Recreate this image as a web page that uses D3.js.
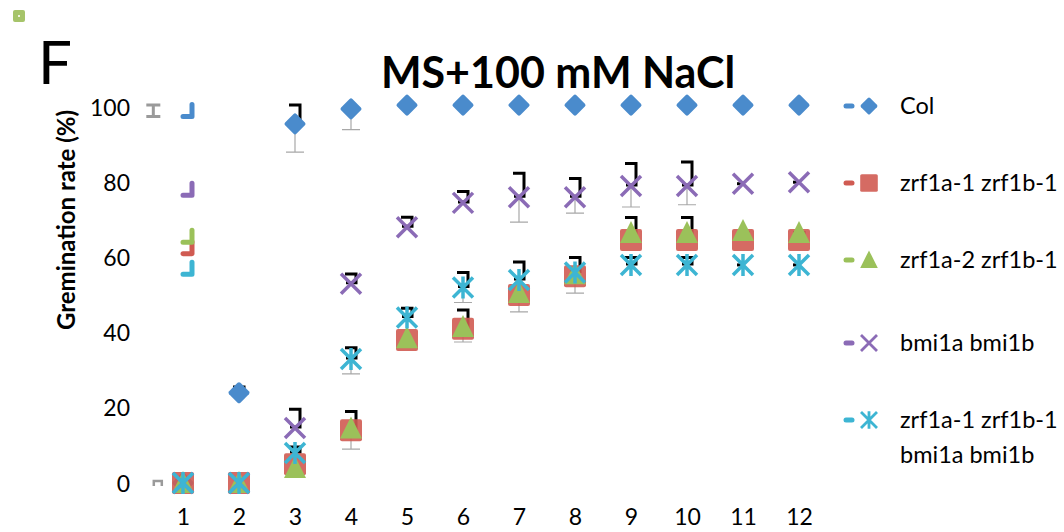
<!DOCTYPE html>
<html>
<head>
<meta charset="utf-8">
<script src="https://cdn.jsdelivr.net/npm/d3@7"></script>
<style>
  body { margin: 0; background: #fff; }
  text { font-family: Lato, "Open Sans", sans-serif; fill: #000; }
</style>
</head>
<body>
<div id="chart"></div>
<script>
// days on the x axis
var days = [1, 2, 3, 4, 5, 6, 7, 8, 9, 10, 11, 12];
var yTicks = [0, 20, 40, 60, 80, 100];

// germination rate (%) per genotype
var colValues   = [0, 24, 95.5, 99.5, 100.5, 100.5, 100.5, 100.5, 100.5, 100.5, 100.5, 100.5];
var zrf1Values  = [0, 0, 5, 14, 38, 41, 50, 55, 64.6, 64.6, 64.6, 64.6];
var zrf2Values  = [0, 0, 4, 14.5, 38.5, 41.5, 50.5, 55.5, 66.5, 66.5, 67, 66.5];
var bmiValues   = [0, 0, 14.6, 53, 68, 74.5, 76, 76, 79, 79, 79.6, 80];
var quadValues  = [0, 0, 8, 33, 44, 52, 54, 56, 58, 58, 58, 58];

// error bars: upper (black) and lower (grey) half-widths, 0 = not drawn
var colErrUp    = [0, 1.5, 5, 0, 0, 0, 0, 0, 0, 0, 0, 0];
var colErrDown  = [0, 0, 7.5, 5.5, 0, 0, 0, 0, 0, 0, 0, 0];
var zrf1ErrUp   = [0, 0, 0, 5, 0, 5, 0, 0, 6, 6, 2, 2];
var zrf1ErrDown = [0, 0, 0, 5, 0, 3.5, 4.5, 4.5, 0, 0, 0, 0];
var bmiErrUp    = [0, 0, 5, 2.6, 2.7, 3, 6.4, 5, 6, 6.4, 0.5, 0.5];
var bmiErrDown  = [0, 0, 0, 0, 0, 0, 6.6, 4.2, 5.6, 5, 0, 0];
var quadErrUp   = [0, 0, 1.6, 3, 2.5, 4, 4.8, 4, 2, 2, 0.5, 0.5];
var quadErrDown = [0, 0, 0, 4, 0, 4, 0, 0, 0, 0, 0, 0];

var seriesNames = ['Col', 'zrf1a-1 zrf1b-1', 'zrf1a-2 zrf1b-1', 'bmi1a bmi1b', 'zrf1a-1 zrf1b-1\nbmi1a bmi1b'];
var seriesColors = ['#4a8bcc', '#d05b52', '#9bc15a', '#8b6bb6', '#3db5d3'];

// stray key marks Excel left next to day 1 (value at the foot of each mark)
var strayValues = [97.5, 61, 64, 76.5, 55.5];

var width = 1064, height = 532;
var svg = d3.select('#chart').append('svg')
	.attr('width', width)
	.attr('height', height);

var x = d3.scaleLinear().domain([1, 12]).range([183, 799]);
var y = d3.scaleLinear().domain([0, 100]).range([483, 107]);

// little green square in the corner
svg.append('rect')
	.attr('x', 13).attr('y', 10).attr('width', 12).attr('height', 12).attr('rx', 2)
	.attr('fill', '#a6c46a');
svg.append('rect')
	.attr('x', 18).attr('y', 15).attr('width', 2).attr('height', 2)
	.attr('fill', '#eef3e0');

svg.append('text')
	.attr('x', 38).attr('y', 84)
	.style('font-size', '60px')
	.text('F');

svg.append('text')
	.attr('x', 558).attr('y', 88)
	.attr('text-anchor', 'middle')
	.style('font-size', '43px')
	.style('font-weight', 'bold')
	.text('MS+100 mM NaCl');

svg.append('text')
	.attr('transform', 'translate(75,220) rotate(-90)')
	.attr('text-anchor', 'middle')
	.style('font-size', '24px')
	.style('font-weight', 'bold')
	.text('Gremination rate (%)');

// axes without lines, only labels
var yAxis = d3.axisLeft(y).tickValues(yTicks).tickSize(0).tickPadding(0);
var gy = svg.append('g').attr('transform', 'translate(130,0)').call(yAxis);
gy.select('.domain').remove();
gy.selectAll('text').style('font-size', '23px').attr('dy', '0.35em');

var xAxis = d3.axisBottom(x).tickValues(days).tickSize(0).tickPadding(0);
var gx = svg.append('g').attr('transform', 'translate(0,509)').call(xAxis);
gx.select('.domain').remove();
gx.selectAll('text').style('font-size', '23px').attr('dy', '0.71em');

// grey I-beam and stub left of day 1
var stray = svg.append('g');
stray.append('path')
	.attr('d', 'M' + (x(0.47) - 7) + ',' + y(100.5) + 'H' + (x(0.47) + 7) +
		'M' + x(0.47) + ',' + y(100.5) + 'V' + y(97.5) +
		'M' + (x(0.47) - 7) + ',' + y(97.5) + 'H' + (x(0.47) + 7))
	.attr('stroke', '#9a9a9a').attr('stroke-width', 3).attr('fill', 'none');
stray.append('path')
	.attr('d', 'M' + (x(0.55) - 4) + ',' + (y(0) + 3) + 'V' + (y(0) - 2) + 'H' + (x(0.55) + 4) + 'V' + (y(0) + 3))
	.attr('stroke', '#9a9a9a').attr('stroke-width', 2.5).attr('fill', 'none');
stray.selectAll('.key')
	.data(strayValues).enter()
	.append('path')
	.attr('d', function(d) {
		var px = x(1) + 5, py = y(d);
		return 'M' + (px - 5) + ',' + py + 'H' + (px + 4) + 'M' + (px + 4) + ',' + py + 'V' + (py - 12);
	})
	.attr('stroke', function(d, i) { return seriesColors[i]; })
	.attr('stroke-width', 5)
	.attr('stroke-linecap', 'round')
	.attr('fill', 'none');

function drawErrors(values, up, down) {
	var g = svg.append('g');
	days.forEach(function(day, i) {
		var px = x(day), v = values[i];
		if (down[i] > 0) {
			g.append('path')
				.attr('d', 'M' + px + ',' + y(v) + 'V' + y(v - down[i]) +
					'M' + (px - 9) + ',' + y(v - down[i]) + 'H' + (px + 9))
				.attr('stroke', '#a8a8a8').attr('stroke-width', 1.2).attr('fill', 'none');
		}
		if (up[i] > 0) {
			var top = y(v + up[i]), base = y(v);
			if (up[i] < 1) {
				g.append('path')
					.attr('d', 'M' + (px - 6) + ',' + base + 'H' + (px + 1))
					.attr('stroke', '#000').attr('stroke-width', 3).attr('fill', 'none');
			} else {
				g.append('path')
					.attr('d', 'M' + (px - 6) + ',' + top + 'H' + (px + 5) + 'V' + (base - 1) + 'H' + (px - 5))
					.attr('stroke', '#000').attr('stroke-width', 3).attr('fill', 'none');
			}
		}
	});
}

function marker(g, kind, color) {
	if (kind === 'diamond') {
		g.append('rect')
			.attr('x', -8).attr('y', -8).attr('width', 16).attr('height', 16)
			.attr('rx', 2)
			.attr('transform', 'rotate(45)')
			.attr('fill', color);
	} else if (kind === 'square') {
		g.append('rect')
			.attr('x', -11).attr('y', -11).attr('width', 22).attr('height', 22)
			.attr('rx', 2)
			.attr('fill', color).attr('opacity', 0.9);
	} else if (kind === 'triangle') {
		g.append('path')
			.attr('d', 'M0,-12L11,10L-11,10Z')
			.attr('fill', color);
	} else if (kind === 'cross') {
		g.append('path')
			.attr('d', 'M-10,-10L10,10M10,-10L-10,10')
			.attr('stroke', color).attr('stroke-width', 3.5).attr('fill', 'none');
	} else if (kind === 'star') {
		g.append('path')
			.attr('d', 'M-10,-10L10,10M10,-10L-10,10M0,-11V11')
			.attr('stroke', color).attr('stroke-width', 3.5).attr('fill', 'none');
	}
}

function drawSeries(values, kind, color) {
	svg.append('g').selectAll('g')
		.data(values).enter()
		.append('g')
		.attr('transform', function(d, i) { return 'translate(' + x(days[i]) + ',' + y(d) + ')'; })
		.each(function() { marker(d3.select(this), kind, color); });
}

var kinds = ['diamond', 'square', 'triangle', 'cross', 'star'];
var allValues = [colValues, zrf1Values, zrf2Values, bmiValues, quadValues];

drawErrors(colValues, colErrUp, colErrDown);
drawErrors(zrf1Values, zrf1ErrUp, zrf1ErrDown);
drawErrors(bmiValues, bmiErrUp, bmiErrDown);
drawErrors(quadValues, quadErrUp, quadErrDown);

allValues.forEach(function(vals, i) {
	drawSeries(vals, kinds[i], seriesColors[i]);
});

// legend
var legendY = [106, 183, 260, 343, 420];
var legend = svg.append('g');
seriesNames.forEach(function(name, i) {
	var ly = legendY[i];
	legend.append('line')
		.attr('x1', 846).attr('x2', 852).attr('y1', ly).attr('y2', ly)
		.attr('stroke', seriesColors[i]).attr('stroke-width', 5).attr('stroke-linecap', 'round');
	var m = legend.append('g').attr('transform', 'translate(869,' + ly + ') scale(0.8)');
	marker(m, kinds[i], seriesColors[i]);
	var t = legend.append('text')
		.attr('x', 900).attr('y', ly + 8)
		.style('font-size', '23.5px');
	name.split('\n').forEach(function(line, j) {
		t.append('tspan').attr('x', 900).attr('dy', j === 0 ? 0 : 35).text(line);
	});
});
</script>
</body>
</html>
